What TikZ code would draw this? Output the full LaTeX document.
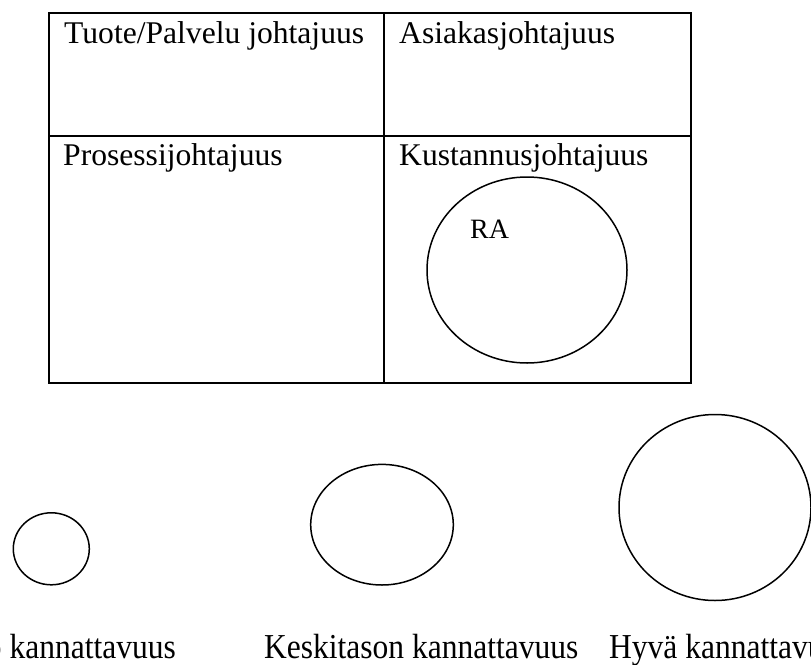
\documentclass[tikz,border=0pt]{standalone}
\usepackage{fontspec}
\setmainfont{Liberation Serif}
\usetikzlibrary{shapes.geometric}

\tikzset{
  gridline/.style={line width=2pt, line cap=rect},
  celltext/.style={anchor=base west, inner sep=0pt,
    font=\fontsize{31.6}{38}\selectfont},
  captext/.style={anchor=base west, inner sep=0pt, xscale=0.9,
    font=\fontsize{35}{42}\selectfont},
  ring/.style={ellipse, draw, line width=1.5pt, inner sep=0pt}
}

\begin{document}
\begin{tikzpicture}[x=1pt, y=-1pt]
  % page frame
  \clip (0,0) rectangle (811,664);
  \fill[white] (0,0) rectangle (811,664);

  % 2x2 table
  \coordinate (tl) at (49,13);
  \coordinate (br) at (691,383);
  \draw[gridline] (tl) rectangle (br);
  \coordinate (vtop) at (384,13);
  \coordinate (vbot) at (384,383);
  \coordinate (hleft) at (49,136);
  \coordinate (hright) at (691,136);
  \draw[gridline] (vtop) -- (vbot);
  \draw[gridline] (hleft) -- (hright);

  % cell labels
  \node[celltext] (tuote) at (64,43) {Tuote/Palvelu johtajuus};
  \node[celltext] (asiakas) at (399,43) {Asiakasjohtajuus};
  \node[celltext] (prosessi) at (63,165) {Prosessijohtajuus};
  \node[celltext] (kustannus) at (399,165) {Kustannusjohtajuus};

  % RA circle inside the cost-leadership cell
  \node[ring, minimum width=200pt, minimum height=186pt] (ra) at (527,270) {};
  \node[anchor=base west, inner sep=0pt, font=\fontsize{28}{34}\selectfont]
    (ralabel) at (470,238) {RA};

  % profitability circles
  \node[ring, minimum width=76pt, minimum height=72pt] (weak) at (51.3,548.8) {};
  \node[ring, minimum width=142.6pt, minimum height=120.6pt] (mid) at (382,524.7) {};
  \node[ring, minimum width=192pt, minimum height=186pt] (good) at (715,507.5) {};

  % captions
  \node[captext, anchor=base east] (weaktext) at (176,658) {Heikko kannattavuus};
  \node[captext] (midtext) at (264,658) {Keskitason kannattavuus};
  \node[captext] (goodtext) at (609,658) {Hyvä kannattavuus};
\end{tikzpicture}
\end{document}
